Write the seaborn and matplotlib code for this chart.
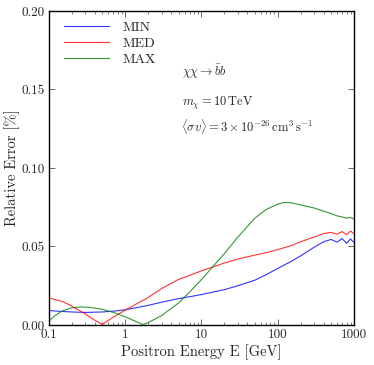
import numpy as np
import pandas as pd
import matplotlib
matplotlib.use("Agg")
import matplotlib.pyplot as plt
import seaborn as sns

# values (energy in GeV, relative error)
energy_min = [0.1, 0.15, 0.2, 0.3, 0.5, 0.7, 1, 2, 3, 5, 7, 10, 20, 30, 50, 70, 100, 150, 200, 300, 400, 500, 600, 700, 800, 900, 1000]
err_min = [0.0092, 0.0086, 0.0083, 0.0080, 0.0083, 0.0088, 0.0097, 0.0125, 0.0145, 0.0168, 0.0180, 0.0194, 0.0225, 0.0250, 0.0285, 0.0320, 0.0360, 0.0405, 0.0440, 0.0495, 0.0530, 0.0545, 0.0528, 0.0550, 0.0520, 0.0548, 0.0525]

energy_med = [0.1, 0.15, 0.2, 0.3, 0.4, 0.5, 0.7, 1, 2, 3, 5, 7, 10, 20, 30, 50, 70, 100, 150, 200, 300, 400, 500, 600, 700, 800, 900, 1000]
err_med = [0.0172, 0.0150, 0.0120, 0.0070, 0.0030, 0.0003, 0.0050, 0.0095, 0.0175, 0.0232, 0.0290, 0.0316, 0.0345, 0.0395, 0.0420, 0.0445, 0.0460, 0.0480, 0.0505, 0.0530, 0.0560, 0.0582, 0.0590, 0.0578, 0.0595, 0.0575, 0.0598, 0.0582]

energy_max = [0.1, 0.12, 0.15, 0.2, 0.27, 0.35, 0.5, 0.7, 1, 1.3, 1.7, 2, 3, 5, 7, 10, 14, 20, 30, 50, 70, 100, 120, 150, 200, 300, 400, 500, 600, 700, 800, 900, 1000]
err_max = [0.0025, 0.0060, 0.0090, 0.0110, 0.0115, 0.0112, 0.0100, 0.0080, 0.0052, 0.0028, 0.0003, 0.0015, 0.0060, 0.0140, 0.0210, 0.0290, 0.0370, 0.0455, 0.0560, 0.0680, 0.0735, 0.0770, 0.0780, 0.0778, 0.0765, 0.0745, 0.0725, 0.0710, 0.0695, 0.0688, 0.0680, 0.0685, 0.0675]

labels = ["MIN", "MED", "MAX"]
colors = ["#0000ff", "#ff0000", "#008000"]
xticks = [0.1, 1, 10, 100, 1000]
xtick_labels = ["0.1", "1", "10", "100", "1000"]
yticks = [0.0, 0.05, 0.10, 0.15, 0.20]
ytick_labels = ["0.00", "0.05", "0.10", "0.15", "0.20"]

df = pd.concat([
    pd.DataFrame({"E": energy_min, "err": err_min, "set": "MIN"}),
    pd.DataFrame({"E": energy_med, "err": err_med, "set": "MED"}),
    pd.DataFrame({"E": energy_max, "err": err_max, "set": "MAX"}),
])

sns.set_style("ticks")
plt.rcParams["font.family"] = ["cmr10", "DejaVu Serif"]
plt.rcParams["mathtext.fontset"] = "cm"
plt.rcParams["axes.formatter.use_mathtext"] = True
plt.rcParams["xtick.direction"] = "in"
plt.rcParams["ytick.direction"] = "in"

fig = plt.figure(figsize=(3.74, 3.65), dpi=100)
ax = fig.add_axes([0.131, 0.1096, 0.8155, 0.8604])

sns.lineplot(data=df, x="E", y="err", hue="set", palette=dict(zip(labels, colors)),
             linewidth=0.8, alpha=0.8, ax=ax, sort=False, estimator=None)

ax.set_xscale("log")
ax.set_xlim(0.1, 1000)
ax.set_ylim(0, 0.2)
ax.set_xticks(xticks)
ax.set_xticklabels(xtick_labels)
ax.set_yticks(yticks)
ax.set_yticklabels(ytick_labels)
ax.tick_params(which="both", top=True, right=True, labelsize=9.5, color="0.3")
ax.tick_params(which="major", length=4, width=0.6)
ax.tick_params(which="minor", length=2, width=0.5)
ax.tick_params(axis="x", pad=3)
ax.tick_params(axis="y", pad=3)
for s in ax.spines.values():
    s.set_linewidth(1.0)
    s.set_color("black")

ax.set_xlabel("Positron Energy E [GeV]", fontsize=10.5, labelpad=2)
ax.set_ylabel("Relative Error [%]", fontsize=10.5, labelpad=1)

# legend, no frame, top left
ax.legend(loc="upper left", bbox_to_anchor=(0.031, 0.984), frameon=False, fontsize=10,
          handlelength=3.24, handletextpad=0.98, labelspacing=0.23, borderaxespad=0, title=None)

# annotation block
ax.text(0.437, 0.796, r"$\chi\chi \rightarrow \bar{b}b$", transform=ax.transAxes, fontsize=9, va="baseline")
ax.text(0.437, 0.697, r"$m_\chi = 10\,\mathrm{TeV}$", transform=ax.transAxes, fontsize=9, va="baseline")
ax.text(0.432, 0.616, r"$\langle\sigma v\rangle = 3\times10^{-26}\,\mathrm{cm^3\,s^{-1}}$",
        transform=ax.transAxes, fontsize=9, va="baseline")

fig.savefig("out.png", dpi=100)
